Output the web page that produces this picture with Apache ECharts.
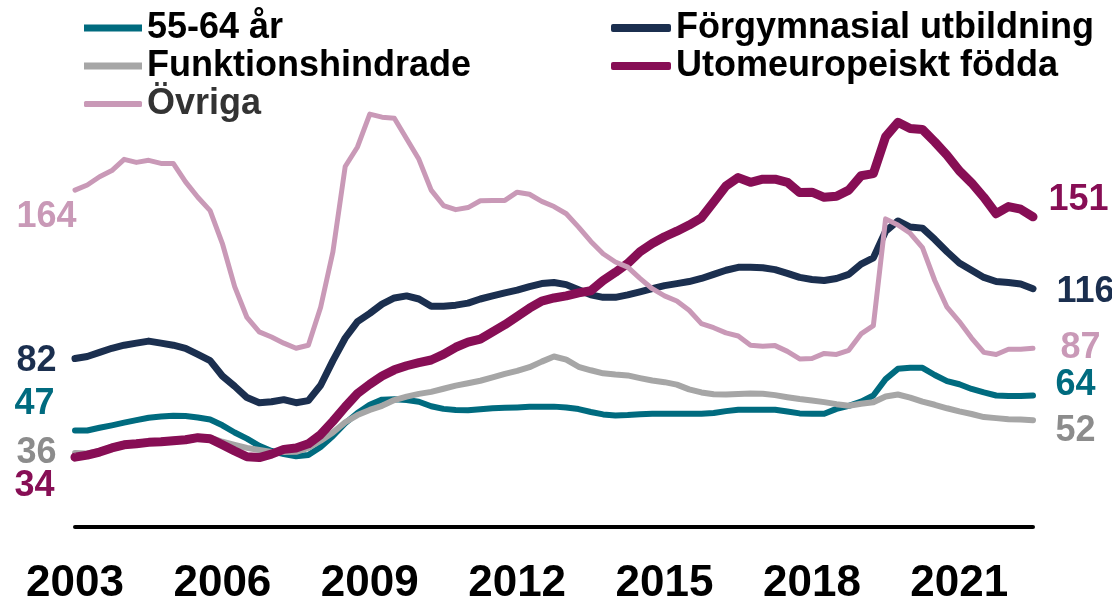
<!DOCTYPE html>
<html>
<head>
<meta charset="utf-8">
<script src="https://cdn.jsdelivr.net/npm/echarts@6/dist/echarts.min.js"></script>
<style>
  html, body { margin: 0; padding: 0; background: #fff; }
  #chart { width: 1112px; height: 606px; }
</style>
</head>
<body>
<div id="chart"></div>
<script>
// quarters, 2003 Q1 .. 2022 Q3
var quarters = [
  '2003-Q1','2003-Q2','2003-Q3','2003-Q4','2004-Q1','2004-Q2','2004-Q3','2004-Q4',
  '2005-Q1','2005-Q2','2005-Q3','2005-Q4','2006-Q1','2006-Q2','2006-Q3','2006-Q4',
  '2007-Q1','2007-Q2','2007-Q3','2007-Q4','2008-Q1','2008-Q2','2008-Q3','2008-Q4',
  '2009-Q1','2009-Q2','2009-Q3','2009-Q4','2010-Q1','2010-Q2','2010-Q3','2010-Q4',
  '2011-Q1','2011-Q2','2011-Q3','2011-Q4','2012-Q1','2012-Q2','2012-Q3','2012-Q4',
  '2013-Q1','2013-Q2','2013-Q3','2013-Q4','2014-Q1','2014-Q2','2014-Q3','2014-Q4',
  '2015-Q1','2015-Q2','2015-Q3','2015-Q4','2016-Q1','2016-Q2','2016-Q3','2016-Q4',
  '2017-Q1','2017-Q2','2017-Q3','2017-Q4','2018-Q1','2018-Q2','2018-Q3','2018-Q4',
  '2019-Q1','2019-Q2','2019-Q3','2019-Q4','2020-Q1','2020-Q2','2020-Q3','2020-Q4',
  '2021-Q1','2021-Q2','2021-Q3','2021-Q4','2022-Q1','2022-Q2','2022-Q3'
];

var aged5564 = [
  47, 47, 48.3, 49.5,  50.8, 52, 53.2, 53.8,  54.2, 54, 53.3, 52.3,  49.5, 46, 43, 39.5,
  37, 35.5, 34.4, 35,  39, 44.3, 50.5, 55.5,  59.5, 62, 62.2, 61.8,  61, 58.8, 57.5, 57,
  56.8, 57.3, 57.8, 58,  58.2, 58.5, 58.6, 58.6,  58.2, 57.4, 56, 54.8,  54.3, 54.5, 54.9, 55.1,
  55.1, 55.1, 55.1, 55.1,  55.5, 56.4, 57.1, 57.1,  57.1, 57.1, 56.2, 55.3,  55.1, 55.1, 57.5, 59,
  61, 64, 72, 77,  77.5, 77.5, 74, 71,  69.5, 67.2, 65.5, 64,  63.8, 63.8, 64
];
var funktion = [
  36, 35.8, 37, 39,  40.5, 41, 41.7, 42,  42.5, 43, 44, 43.5,  41.5, 40, 38.5, 37.5,
  36.5, 36.5, 36.6, 38.5,  42, 46, 51, 54.5,  57, 59, 61.8, 63.5,  64.8, 65.8, 67.3, 68.8,
  70, 71.2, 72.8, 74.5,  76, 77.8, 80.5, 83,  81.5, 78, 76.3, 74.8,  74.2, 73.8, 72.5, 71.3,
  70.5, 69.3, 67, 65.5,  64.6, 64.5, 64.8, 65,  64.9, 64.2, 63.2, 62.3,  61.6, 60.8, 59.8, 59,
  60, 60.7, 63.5, 64.5,  63, 61, 59.5, 57.8,  56.3, 55, 53.5, 53,  52.5, 52.3, 52
];
var forgymn = [
  82, 83, 85, 87,  88.5, 89.5, 90.5, 89.5,  88.5, 87, 84, 81,  73.5, 68.5, 63, 60.5,
  61, 62, 60.5, 61.5,  69, 81, 92, 100,  104, 108.5, 111.5, 112.5,  111, 107.5, 107.5, 108,
  109, 111, 112.5, 114,  115.3, 117, 118.5, 119,  118, 115.5, 113, 111.8,  111.8, 113, 114.5, 116,
  117.5, 118.5, 119.5, 121,  123, 125, 126.4, 126.4,  126.2, 125.3, 123.5, 121.5,  120.5, 120, 121, 123,
  128, 131, 144, 149,  146, 145.5, 140, 134,  128.5, 125, 121.5, 119.5,  119, 118.3, 116
];
var utomeurop = [
  34, 35, 36.5, 38.5,  40, 40.5, 41.2, 41.5,  42, 42.5, 43.5, 43,  40, 37, 34.2, 33.8,
  35.5, 37.8, 38.5, 40.5,  45, 51.5, 58.5, 65,  69.5, 73.5, 76.5, 78.5,  80, 81.3, 84, 87.5,
  90, 91.5, 95, 98.5,  102.5, 106.5, 110, 111.5,  112.5, 114, 115, 120,  124, 128.3, 134, 138,
  141.3, 144, 147, 150.5,  158.2, 166, 170.1, 167.8,  169.3, 169.3, 167.8, 162.8,  163, 160.5, 161, 164,
  171, 172, 190, 197,  194, 193.5, 187.5, 181,  173.4, 167.5, 160.5, 152.5,  156, 154.7, 151
];
var ovriga = [
  164, 166.5, 170.5, 173.5,  179, 177.5, 178.5, 177,  177, 168, 160.5, 154,  138, 117, 102, 95,
  92.5, 89.5, 87, 88.5,  107, 134, 175.5, 185,  201, 199.5, 199, 189,  179, 164, 156.5, 154.5,
  155.5, 158.8, 159, 159,  163, 162, 158.5, 156,  152.5, 146, 139, 133,  129, 126.5, 121, 116,
  112.5, 110, 105.5, 99,  97, 94.5, 93, 88.5,  88, 88.3, 85.5, 81.8,  82, 84.5, 84, 86,
  94, 98, 150, 147,  143, 136, 120, 107,  100, 92, 85, 84,  86.5, 86.5, 87
];

var FONT = '"Liberation Sans", Arial, Helvetica, sans-serif';

// [name, values, line colour, label colour, width, start label offset, end label offset]
var seriesDefs = [
  ['55-64 år', aged5564, '#006B7F', '#006B7F', 6, [-20, -26], [22, -10]],
  ['Funktionshindrade', funktion, '#A6A6A6', '#8C8C8C', 6, [-18, 0], [22, 11]],
  ['Förgymnasial utbildning', forgymn, '#1B2F4F', '#1B2F4F', 7, [-18, 3], [23, 3]],
  ['Utomeuropeiskt födda', utomeurop, '#870E55', '#870E55', 9, [-20, 29], [15, -17]],
  ['Övriga', ovriga, '#C999B7', '#C999B7', 5, [2, 27], [27, 0]]
];

function endLabel(side, color, offset) {
  return {
    show: true,
    position: side,
    distance: 0,
    offset: offset,
    color: color,
    fontSize: 36,
    fontWeight: 'bold',
    fontFamily: FONT,
    formatter: function (p) { return Math.round(p.value); }
  };
}

var series = seriesDefs.map(function (d) {
  var vals = d[1];
  var last = vals.length - 1;
  var data = vals.map(function (v, i) {
    if (i === 0) return { value: v, symbol: 'circle', symbolSize: 1, label: endLabel('left', d[3], d[5]) };
    if (i === last) return { value: v, symbol: 'circle', symbolSize: 1, label: endLabel('right', d[3], d[6]) };
    return v;
  });
  return {
    name: d[0],
    type: 'line',
    data: data,
    symbol: 'none',
    showSymbol: true,
    showAllSymbol: true,
    clip: false,
    color: d[2],
    itemStyle: { color: d[2] },
    lineStyle: { color: d[2], width: d[4], cap: 'round', join: 'round' },
    emphasis: { disabled: true },
    silent: true
  };
});

var legendText = { fontSize: 36, fontWeight: 'bold', color: '#000', fontFamily: FONT };

var chart = echarts.init(document.getElementById('chart'));
chart.setOption({
  animation: false,
  backgroundColor: '#fff',
  grid: { left: 75, right: 79, top: 34, bottom: 78 },
  legend: [
    {
      data: ['55-64 år', 'Funktionshindrade'],
      orient: 'vertical', left: 79, top: 5, itemGap: 2,
      itemWidth: 58, itemHeight: 7, icon: 'rect',
      itemStyle: { borderWidth: 0 },
      selectedMode: false, textStyle: legendText
    },
    {
      data: [{ name: 'Övriga', textStyle: { color: '#333' } }],
      orient: 'vertical', left: 79, top: 81,
      itemWidth: 58, itemHeight: 6, icon: 'roundRect',
      itemStyle: { borderWidth: 0 },
      selectedMode: false, textStyle: legendText
    },
    {
      data: ['Förgymnasial utbildning', 'Utomeuropeiskt födda'],
      orient: 'vertical', left: 606, top: 5, itemGap: 2,
      itemWidth: 60, itemHeight: 8, icon: 'roundRect',
      itemStyle: { borderWidth: 0 },
      selectedMode: false, textStyle: legendText
    }
  ],
  xAxis: {
    type: 'category',
    data: quarters,
    boundaryGap: false,
    axisLine: { lineStyle: { color: '#000', width: 4 } },
    axisTick: { show: false },
    splitLine: { show: false },
    axisLabel: {
      interval: function (index) { return index % 12 === 0; },
      formatter: function (v) { return v.slice(0, 4); },
      margin: 35,
      color: '#000',
      fontSize: 44,
      fontWeight: 'bold',
      fontFamily: FONT
    }
  },
  yAxis: {
    type: 'value',
    min: 0,
    max: 240,
    show: false
  },
  series: series
});
</script>
</body>
</html>
